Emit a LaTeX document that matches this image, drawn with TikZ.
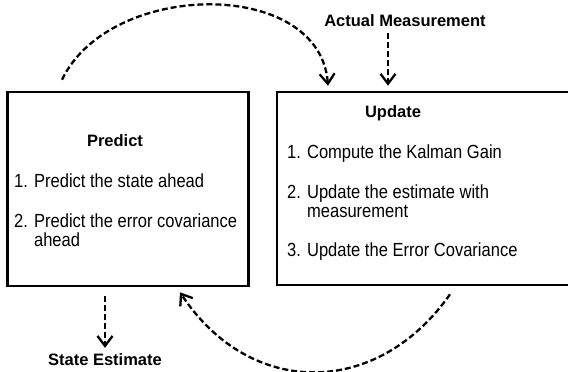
\documentclass[tikz,border=0pt]{standalone}
\usepackage{fontspec}
\setmainfont{Liberation Sans}
\newfontfamily\itemfont[FakeStretch=0.87]{Liberation Sans}
\usetikzlibrary{positioning,calc,arrows.meta}
\tikzset{
  box/.style={draw,line width=2.6pt,inner sep=0pt},
  title/.style={font=\bfseries\fontsize{16.5}{19}\selectfont,anchor=base,inner sep=0pt},
  item/.style={font=\itemfont\fontsize{19}{19}\selectfont,anchor=base west,align=left,inner sep=0pt},
  flow/.style={line width=2.3pt,dash pattern=on 6pt off 3pt,
    -{Straight Barb[length=10pt,width=15pt,line width=2.3pt]}}
}

\begin{document}
\begin{tikzpicture}[x=1pt,y=-1pt]
\useasboundingbox (0,0) rectangle (568,372);
% The two boxes
\node[box,minimum width=241pt,minimum height=194pt] (predict) at (128,189) {};
\node[box,minimum width=295pt,minimum height=193pt] (update) at (424.5,188.5) {};
% Text of the predict box
\node[title] (predtitle) at (115,146.5) {Predict};
\node[item] (predone) at (14,187.5) {1. Predict the state ahead};
\node[item] (predtwo) at (14,246.5) {2. Predict the error covariance\\\phantom{2. }ahead};
% Text of the update box
\node[title] (updtitle) at (393,117) {Update};
\node[item] (updone) at (287,158) {1. Compute the Kalman Gain};
\node[item] (updtwo) at (287,217) {2. Update the estimate with\\\phantom{2. }measurement};
\node[item] (updthree) at (287,256.5) {3. Update the Error Covariance};
% Input and output
\node[title] (meas) at (405,26) {Actual Measurement};
\node[title] (state) at (105,365) {State Estimate};
% Arrow ends on the boxes
\coordinate (measin) at ([xshift=-36.5pt,yshift=5pt]update.north);
\coordinate (statein) at ([xshift=-23pt,yshift=-9pt]predict.south);
% Arrows
\draw[flow] (meas.south -| measin) ++(0,7) -- (measin);
\draw[flow] (statein) -- ([yshift=5pt]state.north);
\draw[flow] ([xshift=-66pt,yshift=11pt]predict.north)
  .. controls +(48,-100) and +(-8,-108) .. ([xshift=-96.5pt,yshift=5pt]update.north);
\draw[flow] ([xshift=25.5pt,yshift=-8pt]update.south)
  .. controls +(-73,104) and +(70,106) .. ([xshift=52pt,yshift=-5pt]predict.south);
\end{tikzpicture}
\end{document}
